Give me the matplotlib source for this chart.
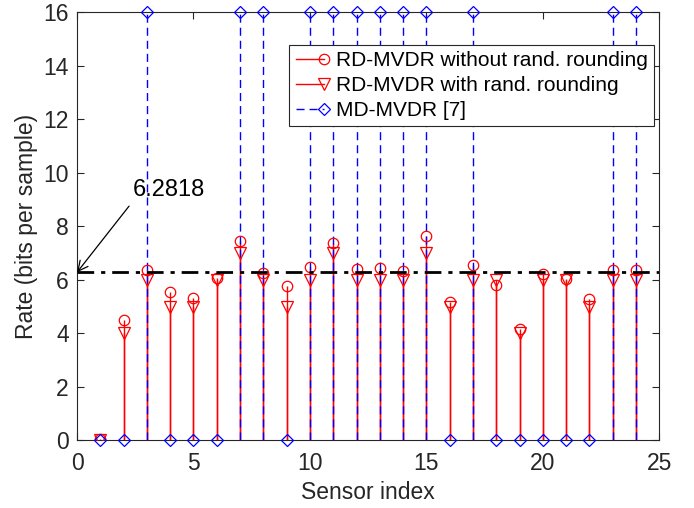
import matplotlib
matplotlib.use("Agg")
import matplotlib.pyplot as plt
from matplotlib.lines import Line2D
from matplotlib.legend_handler import HandlerBase
import numpy as np

plt.rcParams['font.family'] = ['Liberation Sans', 'DejaVu Sans']

sensors = list(range(1, 25))
rate_no_round = [0.05, 4.49, 6.36, 5.54, 5.32, 6.07, 7.44, 6.27, 5.76, 6.48, 7.38, 6.42,
                 6.44, 6.32, 7.64, 5.17, 6.54, 5.79, 4.17, 6.23, 6.04, 5.30, 6.36, 6.38]
rate_round = [0, 4, 6, 5, 5, 6, 7, 6, 5, 6, 7, 6,
              6, 6, 7, 5, 6, 6, 4, 6, 6, 5, 6, 6]
rate_md = [0, 0, 16, 0, 0, 0, 16, 16, 0, 16, 16, 16,
           16, 16, 16, 0, 16, 0, 0, 0, 0, 0, 16, 16]
threshold = 6.2818
labels = ["RD-MVDR without rand. rounding", "RD-MVDR with rand. rounding", "MD-MVDR [7]"]

fig = plt.figure(figsize=(6.94, 5.08), dpi=100)
ax = fig.add_axes([0.111, 0.133, 0.839, 0.843])

RED = '#ff0000'
BLUE = '#0000ff'
blue_dash = (5.8, 3.6)
FS = 16.5

# red stems
ax.vlines(sensors, 0, rate_no_round, colors=RED, linewidth=1.0, zorder=2)
ax.vlines(sensors, 0, rate_round, colors=RED, linewidth=1.0, zorder=2)
ax.plot(sensors, rate_no_round, linestyle='none', marker='o', markersize=7.5,
        mfc='none', mec=RED, mew=0.9, zorder=4)
ax.plot(sensors, rate_round, linestyle='none', marker='v', markersize=8.5,
        mfc='none', mec=RED, mew=0.9, zorder=4)
# blue dashed stems
bl = ax.vlines(sensors, 0, rate_md, colors=BLUE, linewidth=1.0, zorder=3)
bl.set_linestyle((0, blue_dash))
ax.plot(sensors, rate_md, linestyle='none', marker='D', markersize=6.5,
        mfc='none', mec=BLUE, mew=0.9, zorder=5, clip_on=False)

# threshold line
ax.axhline(threshold, color='black', linestyle=(0, (6, 2.5, 1.5, 2.5)), linewidth=2.0, zorder=6)

ax.annotate(f"{threshold}", xy=(0, threshold), xytext=(2.4, 9.35),
            fontsize=17, ha='left', va='center',
            arrowprops=dict(arrowstyle='->', color='black', lw=0.9,
                            relpos=(0, 0), shrinkA=2, shrinkB=0,
                            mutation_scale=18),
            annotation_clip=False)

ax.set_xlim(0, 25)
ax.set_ylim(0, 16)
ax.set_xticks([0, 5, 10, 15, 20, 25])
ax.set_yticks(np.arange(0, 17, 2))
ax.tick_params(direction='in', top=True, right=True, labelsize=FS,
               length=5, width=0.8, colors='#262626', labelcolor='#262626')
ax.tick_params(axis='x', pad=8.5)
ax.tick_params(axis='y', pad=6)
for s in ax.spines.values():
    s.set_color('#262626')
    s.set_linewidth(0.8)
ax.set_xlabel("Sensor index", fontsize=FS, color='#262626', labelpad=4)
ax.set_ylabel("Rate (bits per sample)", fontsize=FS, color='#262626', labelpad=4)


class StemHandler(HandlerBase):
    def __init__(self, color, ls, marker, ms):
        super().__init__()
        self.color, self.ls, self.marker, self.ms = color, ls, marker, ms

    def create_artists(self, legend, orig_handle, xdescent, ydescent, width, height,
                       fontsize, trans):
        y = height / 2 - ydescent
        line = Line2D([-xdescent, width - xdescent], [y, y], color=self.color,
                      linestyle=self.ls, linewidth=1.0, transform=trans)
        mk = Line2D([width - xdescent], [y], linestyle='none', marker=self.marker,
                    markersize=self.ms, mfc='none', mec=self.color, mew=0.9,
                    transform=trans)
        return [line, mk]


h1 = Line2D([], [], color=RED)
h2 = Line2D([], [], color=RED)
h3 = Line2D([], [], color=BLUE)
leg = ax.legend([h1, h2, h3], labels, loc='upper right',
                bbox_to_anchor=(0.9914, 0.923), borderaxespad=0,
                fontsize=15, handlelength=1.35, handletextpad=0.6,
                labelspacing=0.28, borderpad=0.3, fancybox=False, framealpha=1,
                edgecolor='#262626',
                handler_map={h1: StemHandler(RED, '-', 'o', 7.5),
                             h2: StemHandler(RED, '-', 'v', 8.5),
                             h3: StemHandler(BLUE, (0, blue_dash), 'D', 6.5)})
leg.get_frame().set_linewidth(0.8)
leg.set_zorder(10)

fig.savefig("out.png", dpi=100)
